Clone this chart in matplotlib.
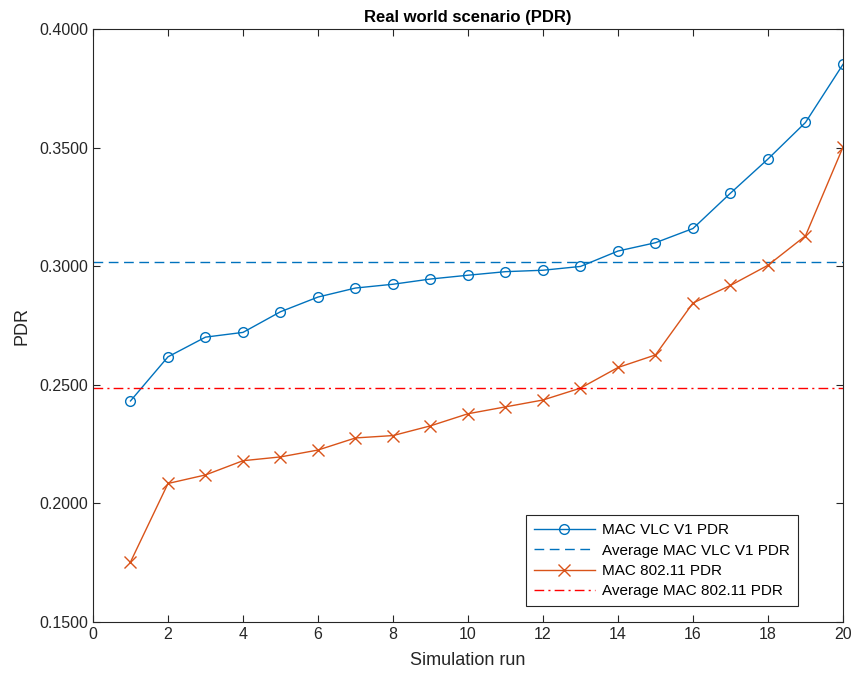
import numpy as np
import matplotlib; matplotlib.use("Agg"); import matplotlib.pyplot as plt

plt.rcParams["font.family"] = ["Liberation Sans", "DejaVu Sans"]

# data
runs = list(range(1, 21))
vlc_pdr = [0.2432, 0.2618, 0.2701, 0.2721, 0.2808, 0.2870, 0.2908, 0.2924, 0.2946, 0.2962,
           0.2977, 0.2983, 0.2999, 0.3064, 0.3099, 0.3159, 0.3308, 0.3452, 0.3606, 0.3851]
wifi_pdr = [0.1753, 0.2084, 0.2120, 0.2180, 0.2196, 0.2225, 0.2276, 0.2286, 0.2327, 0.2378,
            0.2407, 0.2436, 0.2486, 0.2573, 0.2626, 0.2845, 0.2919, 0.3004, 0.3128, 0.3502]
vlc_avg = 0.3019
wifi_avg = 0.2485
yticks = [0.15, 0.20, 0.25, 0.30, 0.35, 0.40]
xticks = list(range(0, 21, 2))

BLUE, ORANGE, RED = "#0072BD", "#D95319", "#FF0000"

fig = plt.figure(figsize=(8.54, 6.78), dpi=100)
ax = fig.add_axes([0.1089, 0.0826, 0.8782, 0.8746])

ax.plot(runs, vlc_pdr, color=BLUE, lw=1.0, marker="o", ms=7, mfc="none", mew=1.0, label="MAC VLC V1 PDR")
ax.axhline(vlc_avg, color=BLUE, lw=1.0, ls=(0, (7, 4)), label="Average MAC VLC V1 PDR")
ax.plot(runs, wifi_pdr, color=ORANGE, lw=1.0, marker="x", ms=8, mew=1.0, label="MAC 802.11 PDR")
ax.axhline(wifi_avg, color=RED, lw=1.0, ls=(0, (7, 3, 1.5, 3)), label="Average MAC 802.11 PDR")

ax.set_xlim(0, 20); ax.set_ylim(0.15, 0.40)
ax.set_xticks(xticks); ax.set_yticks(yticks)
ax.set_yticklabels([f"{v:.4f}" for v in yticks])
ax.tick_params(direction="in", length=5, width=0.8, top=True, right=True, labelsize=11.5, colors="#262626")
for s in ax.spines.values():
    s.set_linewidth(0.8); s.set_color("#262626")

ax.set_title("Real world scenario (PDR)", fontsize=12, fontweight="bold", pad=5)
ax.set_xlabel("Simulation run", fontsize=13, color="#262626", labelpad=7)
ax.set_ylabel("PDR", fontsize=13, color="#262626", labelpad=6)

leg = ax.legend(loc="lower right", bbox_to_anchor=(0.94, 0.027), borderaxespad=0, fontsize=11,
                frameon=True, fancybox=False, edgecolor="#262626", framealpha=1, handlelength=4.0,
                borderpad=0.5, labelspacing=0.42, handletextpad=0.5)
leg.get_frame().set_linewidth(0.8)

fig.savefig("out.png", dpi=100)
